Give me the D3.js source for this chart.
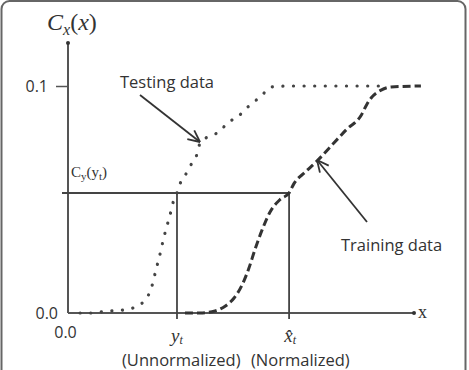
<!DOCTYPE html>
<html lang="en">
<head>
    <meta charset="UTF-8">
    <title>CDF normalization</title>
    <style>
        body { margin: 0; background: #ffffff; }
        svg { display: block; }
        text { font-family: "Open Sans", sans-serif; fill: #333; }
        .math { font-family: "Liberation Serif", serif; font-style: italic; }
    </style>
    <script src="https://d3js.org/d3.v7.min.js"></script>
</head>
<body>
    <svg width="469" height="370"></svg>
    <script>
        const svg = d3.select("svg");

        // data (x in arbitrary units 0..10, y is cumulative value)
        const testingX = [0.35, 0.64, 0.92, 1.27, 1.59, 1.88, 2.17, 2.34, 2.46, 2.54, 2.63, 2.72, 2.80, 2.89, 2.98, 3.06, 3.15, 3.24, 3.44, 3.58, 3.73, 3.82, 4.10, 4.39, 4.62, 4.88, 5.14, 5.38, 5.61, 5.87, 6.42, 9.02];
        const testingY = [0, 0, 0.0004, 0.0009, 0.0013, 0.0022, 0.0048, 0.0084, 0.0137, 0.019, 0.024, 0.030, 0.035, 0.040, 0.045, 0.050, 0.053, 0.057, 0.062, 0.066, 0.070, 0.075, 0.078, 0.080, 0.084, 0.086, 0.090, 0.093, 0.096, 0.0996, 0.1, 0.1];
        const trainingX = [3.38, 3.82, 4.25, 4.54, 4.80, 5.03, 5.23, 5.40, 5.61, 5.84, 6.13, 6.39, 6.53, 6.85, 7.20, 7.69, 8.06, 8.47, 8.64, 8.76, 9.05, 9.34, 10.2];
        const trainingY = [0, 0, 0.0009, 0.003, 0.0066, 0.0123, 0.0198, 0.0278, 0.0366, 0.0445, 0.050, 0.0529, 0.057, 0.062, 0.067, 0.075, 0.081, 0.087, 0.092, 0.0947, 0.0982, 0.0996, 0.1];
        const yTicks = [0.0, 0.1];
        const xTicks = [0.0];
        const yt = 3.15, xt = 6.39, cyt = 0.0529;

        const x = d3.scaleLinear().domain([0, 10]).range([68, 414]);
        const y = d3.scaleLinear().domain([0, 0.1]).range([313, 86]);

        // frame
        svg.append("rect")
            .attr("x", 1.5).attr("y", 1).attr("width", 464).attr("height", 390)
            .attr("rx", 8)
            .attr("fill", "none").attr("stroke", "#666").attr("stroke-width", 2);

        // axes lines
        svg.append("line")
            .attr("x1", x(0)).attr("y1", y(0)).attr("x2", x(0)).attr("y2", 43)
            .attr("stroke", "#555").attr("stroke-width", 2);
        svg.append("circle").attr("cx", x(0)).attr("cy", 43).attr("r", 2).attr("fill", "#333");
        svg.append("line")
            .attr("x1", x(0)).attr("y1", y(0)).attr("x2", x(10)).attr("y2", y(0))
            .attr("stroke", "#555").attr("stroke-width", 2);
        svg.append("circle").attr("cx", x(10)).attr("cy", y(0)).attr("r", 2).attr("fill", "#333");

        const yAxis = svg.append("g")
            .attr("transform", `translate(${x(0)},0)`)
            .call(d3.axisLeft(y).tickValues(yTicks).tickSize(12).tickPadding(8).tickFormat(d3.format(".1f")));
        yAxis.select(".domain").remove();
        yAxis.selectAll(".tick line").attr("stroke", "#555").attr("stroke-width", 1.5)
            .filter(d => d === 0).remove();
        yAxis.selectAll(".tick text").style("font-family", "Open Sans, sans-serif")
            .style("font-size", "16px").attr("fill", "#333")
            .filter(d => d === 0).attr("x", -10).attr("dy", "0.32em");

        const xAxis = svg.append("g")
            .attr("transform", `translate(0,${y(0)})`)
            .call(d3.axisBottom(x).tickValues(xTicks).tickSize(0).tickPadding(14).tickFormat(d3.format(".1f")));
        xAxis.select(".domain").remove();
        xAxis.selectAll(".tick text").style("font-family", "Open Sans, sans-serif")
            .style("font-size", "16px").attr("fill", "#333").attr("dx", -3);

        // guide lines
        svg.append("line")
            .attr("x1", x(0) - 6).attr("y1", y(cyt)).attr("x2", x(xt)).attr("y2", y(cyt))
            .attr("stroke", "#444").attr("stroke-width", 2);
        [yt, xt].forEach(v => {
            svg.append("line")
                .attr("x1", x(v)).attr("y1", y(cyt)).attr("x2", x(v)).attr("y2", y(0) + 6)
                .attr("stroke", "#444").attr("stroke-width", 1.8);
        });

        const line = d3.line().x(d => x(d[0])).y(d => y(d[1])).curve(d3.curveMonotoneX);

        svg.append("path")
            .datum(testingX.map((v, i) => [v, testingY[i]]))
            .attr("d", line)
            .attr("fill", "none").attr("stroke", "#444").attr("stroke-width", 3.2)
            .attr("stroke-linecap", "round").attr("stroke-dasharray", "0.1 10.5");

        svg.append("path")
            .datum(trainingX.map((v, i) => [v, trainingY[i]]))
            .attr("d", line)
            .attr("fill", "none").attr("stroke", "#333").attr("stroke-width", 3)
            .attr("stroke-dasharray", "8 4");

        // annotations
        function arrow(x1, y1, x2, y2) {
            svg.append("line").attr("x1", x1).attr("y1", y1).attr("x2", x2).attr("y2", y2)
                .attr("stroke", "#333").attr("stroke-width", 1.8);
            const a = Math.atan2(y1 - y2, x1 - x2);
            [0.45, -0.45].forEach(da => {
                svg.append("line").attr("x1", x2).attr("y1", y2)
                    .attr("x2", x2 + 13 * Math.cos(a + da)).attr("y2", y2 + 13 * Math.sin(a + da))
                    .attr("stroke", "#333").attr("stroke-width", 1.8);
            });
        }
        svg.append("text").attr("x", 120).attr("y", 88).style("font-size", "16.5px").text("Testing data");
        arrow(140, 95, 200, 142);
        svg.append("text").attr("x", 341).attr("y", 251).style("font-size", "16.5px").text("Training data");
        arrow(367, 222, 317, 160);

        // math labels
        const cx = svg.append("text").attr("class", "math").attr("x", 47).attr("y", 30).style("font-size", "24px");
        cx.append("tspan").text("C");
        cx.append("tspan").attr("dy", 5).style("font-size", "16px").text("x");
        cx.append("tspan").attr("dy", -5).style("font-style", "normal").text("(");
        cx.append("tspan").text("x");
        cx.append("tspan").style("font-style", "normal").text(")");

        const cy = svg.append("text").attr("x", 71).attr("y", 177)
            .style("font-family", "Liberation Serif, serif").style("font-size", "15px");
        cy.append("tspan").text("C");
        cy.append("tspan").attr("dy", 3).style("font-size", "11px").text("y");
        cy.append("tspan").attr("dy", -3).text("(y");
        cy.append("tspan").attr("dy", 3).style("font-size", "11px").text("t");
        cy.append("tspan").attr("dy", -3).text(")");

        const ytl = svg.append("text").attr("class", "math").attr("x", x(yt)).attr("y", 342)
            .attr("text-anchor", "middle").style("font-size", "19px");
        ytl.append("tspan").text("y");
        ytl.append("tspan").attr("dy", 2).style("font-size", "12px").text("t");

        const xtl = svg.append("text").attr("class", "math").attr("x", x(xt) + 1).attr("y", 342)
            .attr("text-anchor", "middle").style("font-size", "19px");
        xtl.append("tspan").text("x\u0302");
        xtl.append("tspan").attr("dy", 2).style("font-size", "12px").text("t");

        svg.append("text").attr("x", 122).attr("y", 366).style("font-size", "16.5px").text("(Unnormalized)");
        svg.append("text").attr("x", 251).attr("y", 366).style("font-size", "16.5px").text("(Normalized)");
        svg.append("text").attr("x", 418).attr("y", 318).style("font-family", "Liberation Serif, serif")
            .style("font-size", "18px").text("x");
    </script>
</body>
</html>
